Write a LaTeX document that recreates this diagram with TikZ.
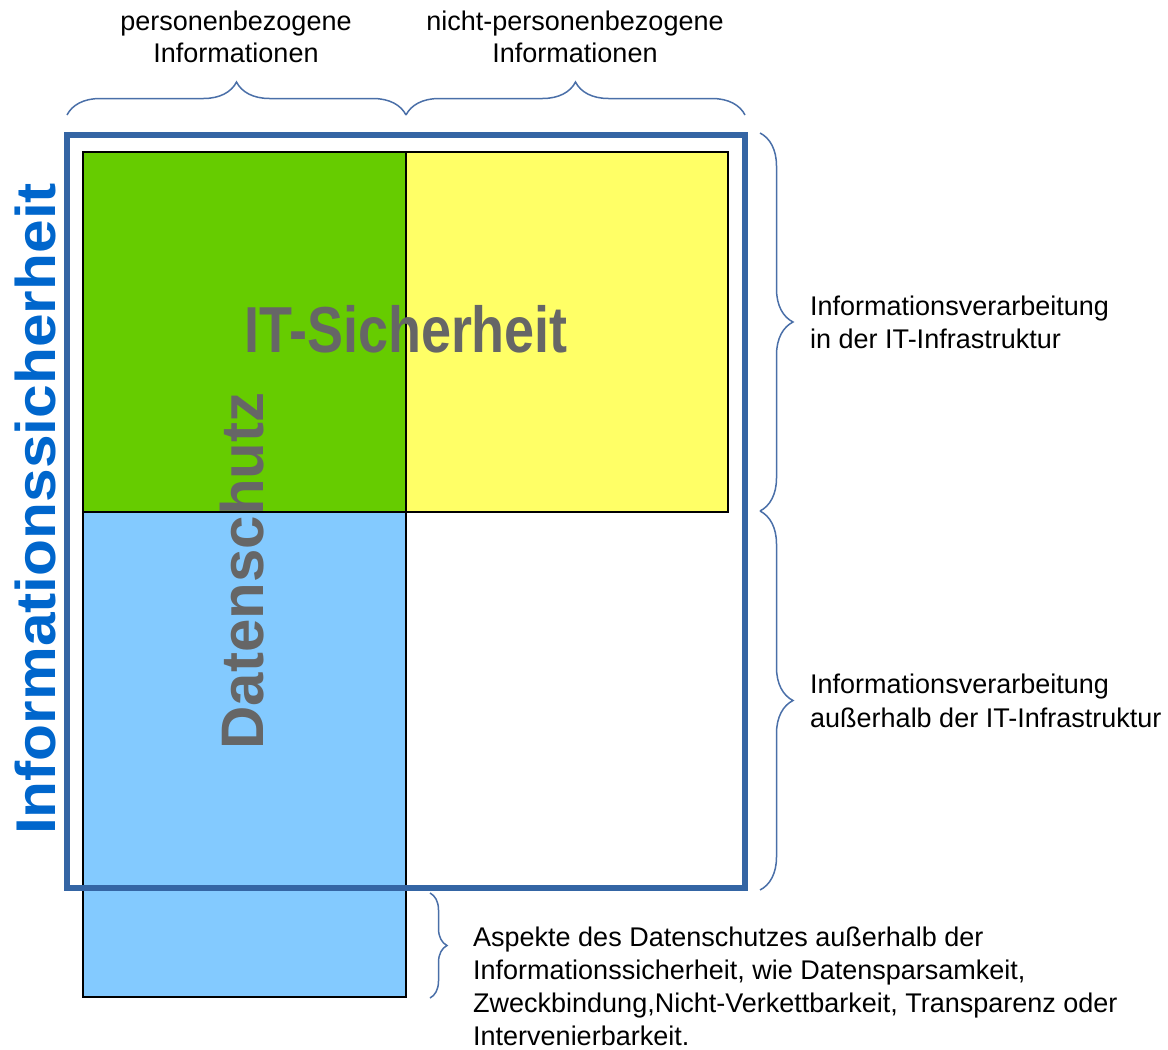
\documentclass[tikz,border=0pt]{standalone}
\usepackage{fontspec}
\usepackage{graphicx}
\setmainfont{Liberation Sans}
\usetikzlibrary{decorations.pathreplacing}
\definecolor{frameblue}{HTML}{3465A4}
\definecolor{braceblue}{HTML}{4A6FA8}
\definecolor{infoblue}{RGB}{0,102,204}
\definecolor{fgreen}{HTML}{66CC00}
\definecolor{fyellow}{HTML}{FFFF66}
\definecolor{flblue}{HTML}{83CAFF}
\definecolor{tgray}{HTML}{666666}
\tikzset{
  cell/.style={draw=black, line width=1.2pt},
  curly/.style={draw=braceblue, line width=1.5pt, decorate, decoration={brace, amplitude=#1}},
  lbl/.style={inner sep=0pt, font=\fontsize{27}{33}\selectfont, text=black},
  big/.style={inner sep=0pt, text=tgray, font=\bfseries}
}
\begin{document}
\begin{tikzpicture}[x=1pt,y=-1pt]
\useasboundingbox (0,0) rectangle (1168,1050);
% cells
\filldraw[cell, fill=fgreen] (83,152) rectangle (406,512);
\filldraw[cell, fill=fyellow] (406,152) rectangle (728,512);
\filldraw[cell, fill=flblue] (83,512) rectangle (406,997);
\draw[cell] (406,512) -- (406,888);
% frame
\draw[frameblue, line width=6pt] (67,135) rectangle (745,888);
% big texts
\node[big, rotate=90, anchor=base, text=infoblue] (infosich) at (55,509)
  {\fontsize{56}{60}\selectfont\scalebox{1.08}[1]{Informationssicherheit}};
\node[big, anchor=base] (itsich) at (406,352)
  {\fontsize{65}{70}\selectfont\scalebox{0.83}[1]{IT-Sicherheit}};
\node[big, rotate=90, anchor=base] (dsch) at (263,571)
  {\fontsize{60}{64}\selectfont Datenschutz};
% brace coordinates
\coordinate (tb1) at (67,115);
\coordinate (tb2) at (406,115);
\coordinate (tb3) at (745,115);
\coordinate (rb1) at (760,133);
\coordinate (rb2) at (760,511);
\coordinate (rb3) at (760,890);
\coordinate (bb1) at (430,893);
\coordinate (bb2) at (430,998);
\draw[curly=33] (tb1) -- (tb2);
\draw[curly=33] (tb2) -- (tb3);
\draw[curly=33] (rb1) -- (rb2);
\draw[curly=33] (rb2) -- (rb3);
\draw[curly=17] (bb1) -- (bb2);
% top labels
\node[lbl, anchor=base] (p1) at (236,30) {personenbezogene};
\node[lbl, anchor=base] (p2) at (236,62) {Informationen};
\node[lbl, anchor=base] (n1) at (575,30) {nicht-personenbezogene};
\node[lbl, anchor=base] (n2) at (575,62) {Informationen};
% right labels
\node[lbl, anchor=base west] (r1) at (810,315) {Informationsverarbeitung};
\node[lbl, anchor=base west] (r2) at (810,348) {in der IT-Infrastruktur};
\node[lbl, anchor=base west] (r3) at (810,693) {Informationsverarbeitung};
\node[lbl, anchor=base west] (r4) at (810,727) {außerhalb der IT-Infrastruktur};
% bottom labels
\node[lbl, anchor=base west] (b1) at (473,946) {Aspekte des Datenschutzes außerhalb der};
\node[lbl, anchor=base west] (b2) at (473,979) {Informationssicherheit, wie Datensparsamkeit,};
\node[lbl, anchor=base west] (b3) at (473,1012) {Zweckbindung,Nicht-Verkettbarkeit, Transparenz oder};
\node[lbl, anchor=base west] (b4) at (473,1045) {Intervenierbarkeit.};
\end{tikzpicture}
\end{document}
